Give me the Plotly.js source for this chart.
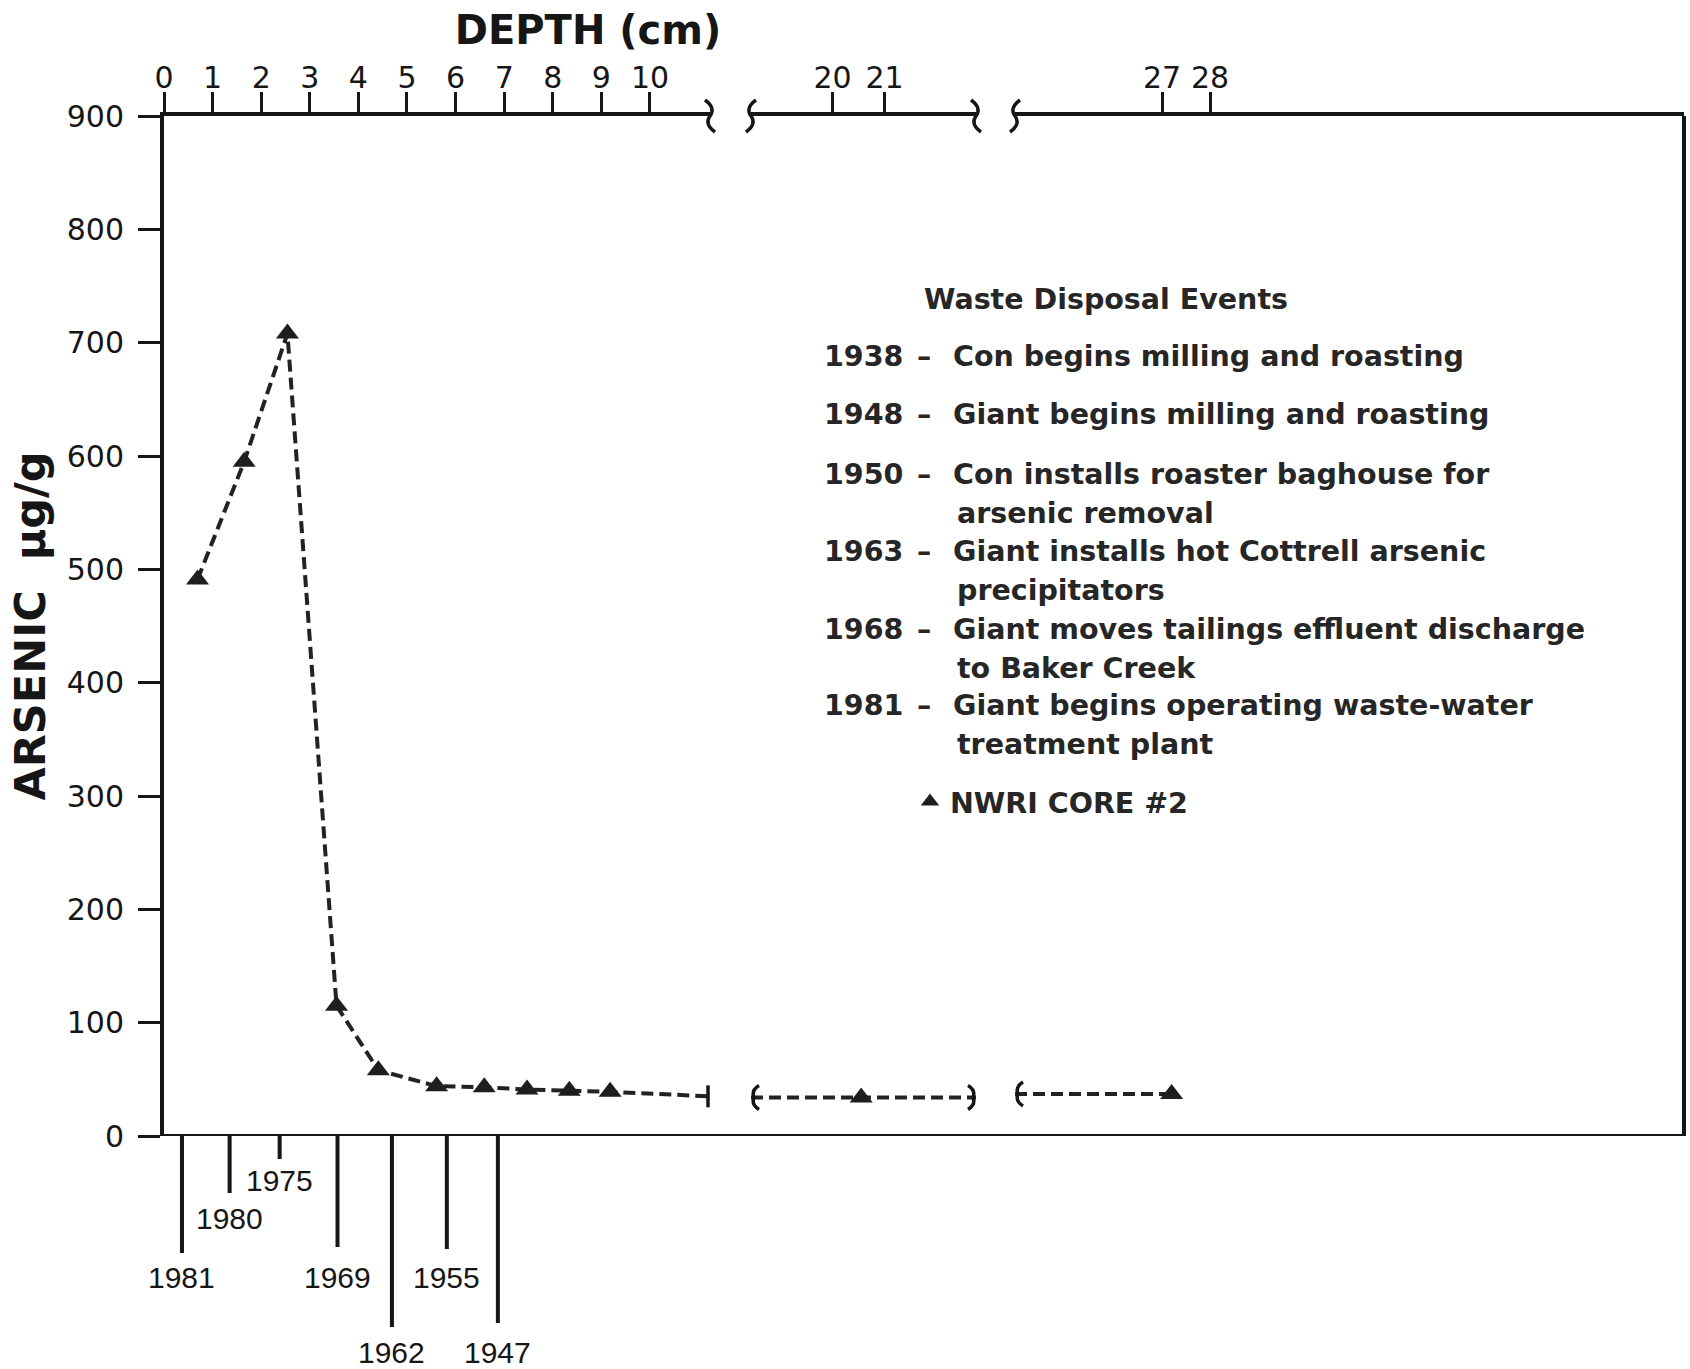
<!DOCTYPE html>
<html><head><meta charset="utf-8">
<script src="https://cdn.plot.ly/plotly-3.0.1.min.js"></script>
<style>body{margin:0;background:#fff}</style>
</head><body>
<div id="chart" style="width:1690px;height:1369px"></div>
<script>
// ---- data ----
const depthSeg1   = [0.69, 1.65, 2.54, 3.55, 4.41, 5.61, 6.59, 7.47, 8.34, 9.18];
const arsenicSeg1 = [491, 595, 708, 115, 58, 44, 43, 41, 40, 39];
const depthSeg2   = [20.55];
const arsenicSeg2 = [34];
const depthSeg3   = [27.2];
const arsenicSeg3 = [37];
// dashed line level where it meets the axis breaks: seg1 end, seg2 start, seg2 end, seg3 start
const breakLevel  = [35, 34, 34, 37];

const depthTicks1 = [0, 1, 2, 3, 4, 5, 6, 7, 8, 9, 10];
const depthTicks2 = [20, 21];
const depthTicks3 = [27, 28];
const arsenicTicks = [0, 100, 200, 300, 400, 500, 600, 700, 800, 900];

const markerYears  = ['1981', '1980', '1975', '1969', '1962', '1955', '1947'];
const markerDepths = [0.37, 1.35, 2.38, 3.57, 4.69, 5.82, 6.87];

const eventYears = ['1938', '1948', '1950', '1963', '1968', '1981'];
const eventLines = [
  ['Con begins milling and roasting'],
  ['Giant begins milling and roasting'],
  ['Con installs roaster baghouse for', 'arsenic removal'],
  ['Giant installs hot Cottrell arsenic', 'precipitators'],
  ['Giant moves tailings effluent discharge', 'to Baker Creek'],
  ['Giant begins operating waste-water', 'treatment plant']
];

// ---- layout geometry (pixels) ----
const W = 1690, H = 1369;
const L = 164, R = 6, T = 116, B = 233;
const PW = W - L - R, PH = H - T - B;
const px = X => (X - L) / PW;
const py = Y => (H - B - Y) / PH;

const seg1Range = [0, 11.235], seg1Dom = [0, px(710)];
const seg2Range = [18.431, 22.758], seg2Dom = [px(751), px(976)];
const seg3Range = [23.9375, 37.875], seg3Dom = [px(1015), 1];

const yearLineLen   = [115, 55, 21, 109, 189, 111, 185];
const yearLabelDrop = [141, 82, 44, 141, 216, 141, 216];
const labelHalfH = 20;
const eventFirstY = [356.7, 415, 474.2, 551.8, 629.4, 706];
const contStep = 38.8;

const ink = '#161616';
const lineStyle = {color: '#222', width: 4, dash: '12px,6px'};
const markerStyle = {symbol: 'triangle-up', size: 20, color: '#1e1e1e'};

const traces = [
  {x: depthSeg1.concat([seg1Range[1]]), y: arsenicSeg1.concat([breakLevel[0]]),
   xaxis: 'x', yaxis: 'y', mode: 'lines', line: lineStyle, showlegend: false},
  {x: depthSeg1, y: arsenicSeg1, xaxis: 'x', yaxis: 'y', mode: 'markers',
   marker: markerStyle, name: 'NWRI CORE #2', showlegend: true, cliponaxis: false},
  {x: [seg2Range[0]].concat(depthSeg2, [seg2Range[1]]),
   y: [breakLevel[1]].concat(arsenicSeg2, [breakLevel[2]]),
   xaxis: 'x2', yaxis: 'y', mode: 'lines', line: lineStyle, showlegend: false},
  {x: depthSeg2, y: arsenicSeg2, xaxis: 'x2', yaxis: 'y', mode: 'markers',
   marker: markerStyle, showlegend: false, cliponaxis: false},
  {x: [seg3Range[0]].concat(depthSeg3), y: [breakLevel[3]].concat(arsenicSeg3),
   xaxis: 'x3', yaxis: 'y', mode: 'lines', line: lineStyle, showlegend: false},
  {x: depthSeg3, y: arsenicSeg3, xaxis: 'x3', yaxis: 'y', mode: 'markers',
   marker: markerStyle, showlegend: false, cliponaxis: false}
];

const tickFont = {family: 'DejaVu Sans', size: 30, color: ink};
function topAxis(dom, rng, ticks) {
  return {domain: dom, range: rng, anchor: 'y', side: 'top',
    tickvals: ticks, ticktext: ticks.map(String),
    showline: true, linewidth: 4, linecolor: ink,
    ticks: 'outside', ticklen: 20, tickwidth: 3, tickcolor: ink,
    tickfont: tickFont, ticklabelstandoff: -8,
    showgrid: false, zeroline: false, fixedrange: true};
}

const annotations = [];
const legFont = {family: 'DejaVu Sans', size: 28.5, color: '#262626', weight: 'bold'};
annotations.push({text: 'Waste Disposal Events', xref: 'paper', yref: 'paper',
  x: px(921.5), y: py(299.6), xanchor: 'left', yanchor: 'middle', showarrow: false, font: legFont});
eventYears.forEach((yr, i) => {
  const y0 = eventFirstY[i];
  annotations.push({text: yr, xref: 'paper', yref: 'paper', x: px(822), y: py(y0),
    xanchor: 'left', yanchor: 'middle', showarrow: false, font: legFont});
  annotations.push({text: '–', xref: 'paper', yref: 'paper', x: px(924), y: py(y0),
    xanchor: 'center', yanchor: 'middle', showarrow: false, font: legFont});
  eventLines[i].forEach((t, j) => {
    annotations.push({text: t, xref: 'paper', yref: 'paper', x: px(j === 0 ? 951 : 955),
      y: py(y0 + j * contStep), xanchor: 'left', yanchor: 'middle', showarrow: false, font: legFont});
  });
});
// year labels with their marker lines (annotation arrows, not clipped)
markerYears.forEach((yr, i) => {
  annotations.push({text: yr, xref: 'x', yref: 'y', x: markerDepths[i], y: 0,
    showarrow: true, axref: 'pixel', ayref: 'pixel', ax: 0, ay: yearLabelDrop[i],
    arrowhead: 0, arrowwidth: 4, arrowcolor: ink, standoff: 0,
    startstandoff: Math.max(0, yearLabelDrop[i] - labelHalfH - yearLineLen[i]),
    xanchor: 'center', yanchor: 'middle',
    font: {family: 'Liberation Sans', size: 30, color: ink}});
});

const shapes = [];
// bottom axis line and right frame
shapes.push({type: 'line', xref: 'paper', yref: 'y', x0: 0, x1: 1, y0: 0, y1: 0,
  line: {color: ink, width: 4}});
shapes.push({type: 'line', xref: 'paper', yref: 'paper', x0: 1, x1: 1, y0: 0, y1: 1,
  line: {color: ink, width: 4}});
// axis-break marks on the depth axis
function topBrace(xref, xa, path) {
  return {type: 'path', xref: xref, yref: 'paper', xsizemode: 'pixel', ysizemode: 'pixel',
    xanchor: xa, yanchor: 1, path: path, line: {color: ink, width: 3.5}};
}
function lineBrace(xref, xa, yv, path) {
  return {type: 'path', xref: xref, yref: 'y', xsizemode: 'pixel', ysizemode: 'pixel',
    xanchor: xa, yanchor: yv, path: path, line: {color: ink, width: 3.5}};
}
const sCurve = 'M -5,16 Q 6,8 0,0 Q -6,-8 5,-16';
const sCurveR = 'M 5,16 Q -6,8 0,0 Q 6,-8 -5,-16';
shapes.push(topBrace('x domain', 1, sCurve));
shapes.push(topBrace('x2 domain', 0, sCurveR));
shapes.push(topBrace('x2 domain', 1, sCurve));
shapes.push(topBrace('x3 domain', 0, sCurveR));
shapes.push(lineBrace('x', seg1Range[1], breakLevel[0], 'M -2,11 L -2,-11'));
shapes.push(lineBrace('x2', seg2Range[0], breakLevel[1], 'M 8,12 Q 0,7 3,0 Q 0,-7 8,-12'));
shapes.push(lineBrace('x2', seg2Range[1], breakLevel[2], 'M -8,12 Q 0,7 -3,0 Q 0,-7 -8,-12'));
shapes.push(lineBrace('x3', seg3Range[0], breakLevel[3], 'M 8,12 Q 0,7 3,0 Q 0,-7 8,-12'));

const layout = {
  width: W, height: H,
  margin: {l: L, r: R, t: T, b: B, pad: 0},
  paper_bgcolor: '#fff', plot_bgcolor: '#fff',
  font: {family: 'DejaVu Sans', color: ink},
  title: {text: 'DEPTH (cm)', xref: 'container', yref: 'container',
    x: 588 / W, y: 1 - 30 / H, xanchor: 'center', yanchor: 'middle',
    font: {family: 'DejaVu Sans', size: 40, weight: 'bold', color: ink}},
  xaxis: topAxis(seg1Dom, seg1Range, depthTicks1),
  xaxis2: topAxis(seg2Dom, seg2Range, depthTicks2),
  xaxis3: topAxis(seg3Dom, seg3Range, depthTicks3),
  yaxis: {range: [0, 900], anchor: 'x', tickvals: arsenicTicks, ticktext: arsenicTicks.map(String),
    showline: true, linewidth: 4, linecolor: ink,
    ticks: 'outside', ticklen: 22, tickwidth: 3, tickcolor: ink,
    tickfont: tickFont, ticklabelstandoff: 8,
    showgrid: false, zeroline: false, fixedrange: true,
    title: {text: 'ARSENIC\u00a0\u00a0µg/g', standoff: 9,
      font: {family: 'DejaVu Sans', size: 43, weight: 'bold', color: ink}}},
  legend: {x: px(910), y: py(801.9), xanchor: 'left', yanchor: 'middle',
    bgcolor: 'rgba(0,0,0,0)', borderwidth: 0, font: legFont, itemwidth: 30},
  showlegend: true,
  annotations: annotations,
  shapes: shapes
};

Plotly.newPlot('chart', traces, layout, {staticPlot: true, displayModeBar: false});
</script>
</body></html>
